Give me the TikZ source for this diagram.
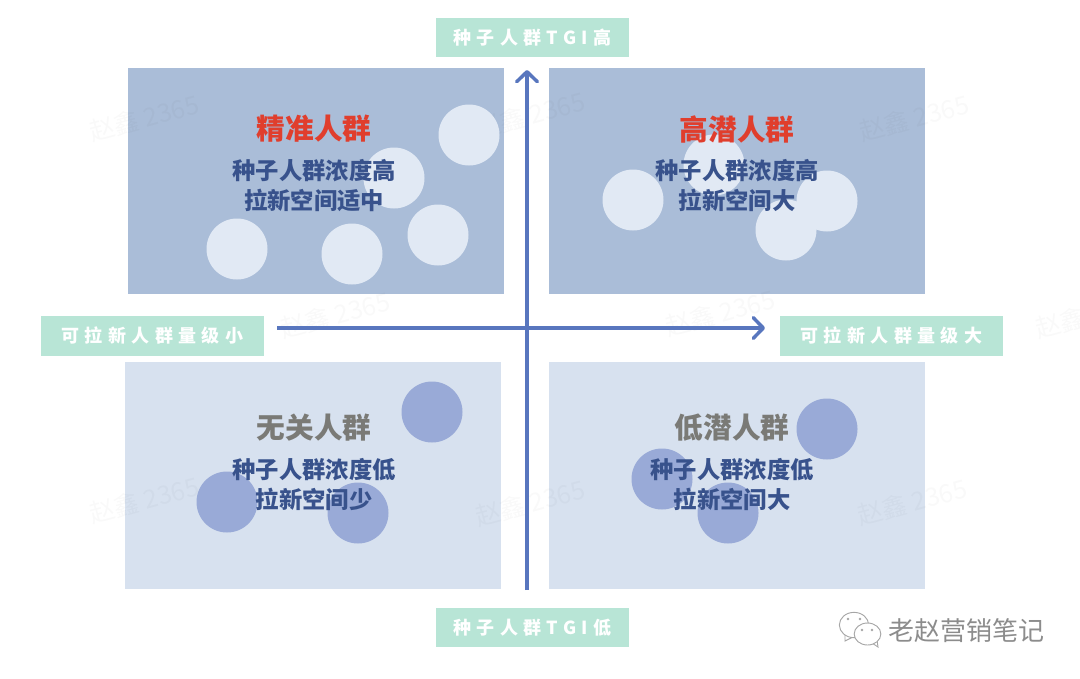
\documentclass[tikz,border=0pt]{standalone}
\usepackage{fontspec}
\setmainfont{Noto Sans CJK SC}
\newfontfamily\spaced[LetterSpace=30]{Noto Sans CJK SC}
\usetikzlibrary{arrows.meta}
\usetikzlibrary{shapes.geometric}
\definecolor{darkquad}{RGB}{170,189,216}
\definecolor{lightquad}{RGB}{215,225,239}
\definecolor{palecirc}{RGB}{225,233,244}
\definecolor{bluecirc}{RGB}{153,170,215}
\definecolor{axisblue}{RGB}{88,118,190}
\definecolor{mint}{RGB}{184,229,214}
\definecolor{titlered}{RGB}{224,62,45}
\definecolor{titlegrey}{RGB}{122,122,118}
\definecolor{descblue}{RGB}{56,82,140}

\begin{document}
\begin{tikzpicture}[
    x=0.75pt,
    y=-0.75pt,
    >={Straight Barb[length=7.5pt,width=15.5pt,line width=2.6pt,round]},
    % node styles
    quad/.style = {
      draw=none,
      inner sep=0pt,
      minimum width=282pt,
      minimum height=170pt
    },
    spot/.style = {
      circle,
      draw=none,
      inner sep=0pt,
      minimum size=45.75pt
    },
    tag/.style = {
      draw=none,
      fill=mint,
      inner sep=0pt,
      minimum height=29.5pt,
      text=white,
      font=\spaced\bfseries\fontsize{13.5}{16}\selectfont
    },
    title/.style = {
      font=\bfseries\fontsize{21.5}{26}\selectfont,
      inner sep=0pt
    },
    desc/.style = {
      align=center,
      inner sep=0pt,
      text=descblue,
      font=\bfseries\fontsize{17.5}{22.5}\selectfont
    },
    wmark/.style = {
      rotate=15,
      text=black,
      text opacity=0.022,
      font=\fontsize{19}{22}\selectfont
    },
    bubble/.style = {
      ellipse,
      draw=black!35,
      fill=white,
      line width=0.7pt,
      inner sep=0pt
    },
    eye/.style = {circle, fill=black!35, inner sep=0pt, minimum size=2.2pt},
    % arrow styles
    axis/.style = {->, line width=2.6pt, draw=axisblue}
  ]
  \useasboundingbox (0,0) rectangle (1080,678);

  % --- Quadrants
  \node[quad, fill=darkquad] (quadTL) at (315.5,181) {};
  \node[quad, fill=darkquad] (quadTR) at (737,181) {};
  \node[quad, fill=lightquad] (quadBL) at (313,475.5) {};
  \node[quad, fill=lightquad] (quadBR) at (737,475.5) {};

  % --- Watermarks
  \foreach \wx/\wy/\wn in {144/118/a,530/115/b,914/118/c,335/315/d,720/313/e,
    1090/315/f,144/500/g,530/503/h,912/502/i}
    \node[wmark] (wmark\wn) at (\wx,\wy) {赵鑫 2365};

  % --- Circles
  \foreach \cx/\cy/\cn in {469/135/a,394/178/b,237/249/c,352/254/d,438/235/e,
    714/165/f,633/200/g,827/201/h,786/230/i}
    \node[spot, fill=palecirc] (pale\cn) at (\cx,\cy) {};
  \foreach \cx/\cy/\cn in {432/412/a,227/502/b,358/513/c,827/429/d,662/479/e,728/513/f}
    \node[spot, fill=bluecirc] (blue\cn) at (\cx,\cy) {};

  % --- Labels
  \node[title, text=titlered] (nameTL) at (314,129) {精准人群};
  \node[title, text=titlered] (nameTR) at (737,129) {高潜人群};
  \node[title, text=titlegrey] (nameBL) at (314,428) {无关人群};
  \node[title, text=titlegrey] (nameBR) at (732,428) {低潜人群};
  \node[desc] (descTL) at (314,186) {种子人群浓度高\\拉新空间适中};
  \node[desc] (descTR) at (737,186) {种子人群浓度高\\拉新空间大};
  \node[desc] (descBL) at (314,484) {种子人群浓度低\\拉新空间少};
  \node[desc] (descBR) at (732,484) {种子人群浓度低\\拉新空间大};

  % --- Axis tags
  \node[tag, minimum width=144.75pt] (high) at (532.5,37.5) {种子人群TGI高};
  \node[tag, minimum width=144.75pt] (low) at (532.5,627.5) {种子人群TGI低};
  \node[tag, minimum width=167.25pt] (small) at (152.5,336) {可拉新人群量级小};
  \node[tag, minimum width=167.25pt] (large) at (891.5,336) {可拉新人群量级大};

  % --- Arrows
  \coordinate (axisTop) at (527,70);
  \coordinate (axisBottom) at (527,590);
  \coordinate (axisLeft) at (277,328);
  \coordinate (axisRight) at (765,328);
  \draw[axis] (axisBottom) -- (axisTop);
  \draw[axis] (axisLeft) -- (axisRight);

  % --- Account mark
  \draw[draw=black!35, line width=0.7pt] (845,634) -- (845,641) -- (853,637);
  \node[bubble, minimum width=22pt, minimum height=19pt] (bubbleA) at (854,625) {};
  \draw[draw=black!35, line width=0.7pt] (872,643) -- (878,647) -- (877,640);
  \node[bubble, minimum width=20pt, minimum height=16.5pt] (bubbleB) at (867.5,634) {};
  \foreach \ex/\ey/\en in {848/619/a,860/619/b,862/630/c,872/630/d}
    \node[eye] (eye\en) at (\ex,\ey) {};
  \node[text=black!45, inner sep=0pt, font=\fontsize{19.5}{24}\selectfont] (account) at (966,631) {老赵营销笔记};
\end{tikzpicture}
\end{document}
